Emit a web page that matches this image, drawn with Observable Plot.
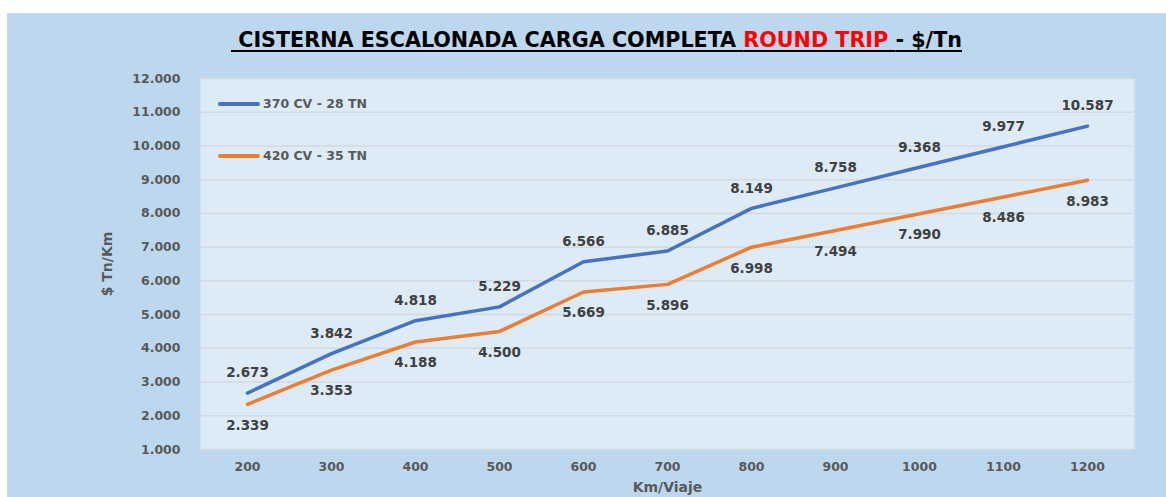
<!DOCTYPE html>
<html>
<head>
<meta charset="utf-8">
<script src="https://cdn.jsdelivr.net/npm/d3@7"></script>
<script src="https://cdn.jsdelivr.net/npm/@observablehq/plot@0.6"></script>
<style>
  html, body { margin: 0; padding: 0; background: #fff; }
  #wrap { position: relative; width: 1166px; height: 497px; overflow: hidden; background: #fff; }
  #bg { position: absolute; left: 7px; top: 13px; right: 0; bottom: 0; background: #BDD7EE; border-top: 1px solid #D6D6D6; }
  #title { position: absolute; left: 231px; top: 28px; white-space: nowrap; transform-origin: 0 0;
    font-family: "Liberation Sans Narrow", "DejaVu Sans Condensed", "Liberation Sans", sans-serif;
    font-weight: bold; font-size: 21px; color: #000; text-decoration: underline; text-decoration-thickness: 2px; text-underline-offset: 3px; }
  #title .red { color: #FF0000; }
  #chart { position: absolute; left: 0; top: 0; }
  .leg { position: absolute; left: 218px; display: flex; align-items: center;
    font-family: "DejaVu Sans", sans-serif; font-weight: bold; font-size: 12.5px; color: #595959; }
  .leg .sw { width: 42px; height: 4px; border-radius: 2px; margin-right: 3px; }
</style>
</head>
<body>
<div id="wrap">
  <div id="bg"></div>
  <div id="title">&nbsp;CISTERNA ESCALONADA CARGA COMPLETA <span class="red">ROUND TRIP </span>- $/Tn</div>
  <div id="chart"></div>
  <div class="leg" id="leg0" style="top:96px"><div class="sw"></div><span></span></div>
  <div class="leg" id="leg1" style="top:148px"><div class="sw"></div><span></span></div>
</div>
<script>
// ---- data ----
const kmCategories = [200, 300, 400, 500, 600, 700, 800, 900, 1000, 1100, 1200];
const serie370CV = [2673, 3842, 4818, 5229, 6566, 6885, 8149, 8758, 9368, 9977, 10587];
const serie420CV = [2339, 3353, 4188, 4500, 5669, 5896, 6998, 7494, 7990, 8486, 8983];
const seriesNames = ["370 CV - 28 TN", "420 CV - 35 TN"];
const seriesColors = ["#4472C4", "#ED7D31"];
const yTickValues = [1000, 2000, 3000, 4000, 5000, 6000, 7000, 8000, 9000, 10000, 11000, 12000];
const yAxisTitle = "$ Tn/Km";
const xAxisTitle = "Km/Viaje";

const fmt = v => d3.format(",")(v).replace(/,/g, ".");

const d370 = kmCategories.map((k, i) => ({km: k, v: serie370CV[i], s: seriesNames[0]}));
const d420 = kmCategories.map((k, i) => ({km: k, v: serie420CV[i], s: seriesNames[1]}));
const all = d370.concat(d420);

const chart = Plot.plot({
  width: 1166,
  height: 497,
  marginLeft: 200,
  marginRight: 32,
  marginTop: 78,
  marginBottom: 48,
  style: {background: "transparent", fontFamily: "DejaVu Sans, sans-serif", fontSize: "12.5px", fontWeight: "bold", color: "#595959", overflow: "visible"},
  x: {type: "point", domain: kmCategories, padding: 0.5, tickSize: 0, tickPadding: 13, label: null, tickFormat: d => String(d)},
  y: {domain: [1000, 12000], ticks: yTickValues, tickSize: 0, tickPadding: 20, tickFormat: fmt, label: null},
  color: {domain: seriesNames, range: seriesColors},
  marks: [
    Plot.frame({fill: "#DDEBF7", stroke: null}),
    Plot.ruleY(yTickValues, {stroke: "#D3D9E0", strokeWidth: 1.5}),
    Plot.line(all, {x: "km", y: "v", z: "s", stroke: "s", strokeWidth: 3.5, strokeLinecap: "round", strokeLinejoin: "round"}),
    Plot.text(d370, {x: "km", y: "v", text: d => fmt(d.v), dy: -20, fill: "#404040", fontSize: 13.5, fontWeight: "bold"}),
    Plot.text(d420, {x: "km", y: "v", text: d => fmt(d.v), dy: 21, fill: "#404040", fontSize: 13.5, fontWeight: "bold"}),
    Plot.text([yAxisTitle], {frameAnchor: "left", text: d => d, rotate: -90, dx: -93, textAnchor: "middle", lineAnchor: "middle", fill: "#595959", fontSize: 14, fontWeight: "bold"}),
    Plot.text([xAxisTitle], {frameAnchor: "bottom", text: d => d, dy: 38, textAnchor: "middle", lineAnchor: "middle", fill: "#595959", fontSize: 14, fontWeight: "bold"})
  ]
});
document.getElementById("chart").appendChild(chart);

// legend
seriesNames.forEach((n, i) => {
  const el = document.getElementById("leg" + i);
  el.querySelector(".sw").style.background = seriesColors[i];
  el.querySelector("span").textContent = n;
});

// fit title to reference width
const t = document.getElementById("title");
const w = t.getBoundingClientRect().width;
t.style.transform = `scaleX(${731 / w})`;
</script>
</body>
</html>
